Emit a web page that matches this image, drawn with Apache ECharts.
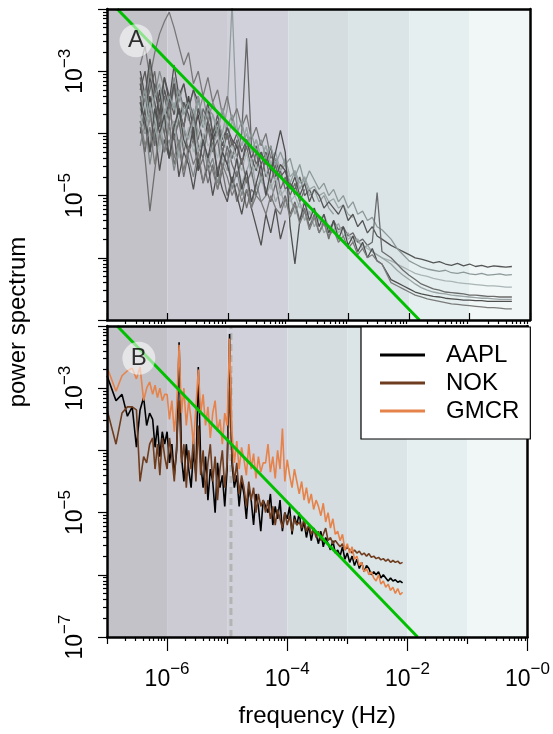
<!DOCTYPE html>
<html><head><meta charset="utf-8">
<script src="https://cdn.jsdelivr.net/npm/echarts@6/dist/echarts.min.js"></script>
<style>html,body{margin:0;padding:0;background:#fff}#c{width:553px;height:734px}</style>
</head><body><div id="c"></div><script>
const FONT = '"Liberation Sans", Arial, Helvetica, sans-serif';

// ---- axis / decoration data (log10 units) ----
const bandEdges = [-7, -6, -5, -4, -3, -2, -1, 0];
const bandColors = ['#c3c2c8', '#cccbd4', '#d1d1db', '#d5dde0', '#dbe4e6', '#e5efef', '#f1f6f6'];
const xDecades = [-7, -6, -5, -4, -3, -2, -1, 0];
const xLabeled = [-6, -4, -2, 0];
const xOdd = [-7, -5, -3, -1];
const yDecades = [-7, -6, -5, -4, -3, -2];
const yLabelsA = [-5, -3];
const yLabelsB = [-7, -5, -3];
const dayFreq = 1 / 86400;               // dashed line position (Hz)
const greenLine = [[-6.83, -2], [-1.83, -7]]; // log10 f, log10 power
const panelLetterA = [-6.52, -2.51];
const panelLetterB = [-6.47, -2.52];

// ---- panel A: log10 frequency grid and log10 power of each stock ----
const freqA = [-6.45,-6.37,-6.29,-6.21,-6.13,-6.05,-5.97,-5.89,-5.81,-5.73,
  -5.65,-5.57,-5.49,-5.41,-5.33,-5.25,-5.17,-5.09,-5.01,-4.93,
  -4.85,-4.77,-4.69,-4.61,-4.53,-4.45,-4.37,-4.29,-4.21,-4.13,
  -4.05,-3.97,-3.89,-3.81,-3.73,-3.65,-3.57,-3.49,-3.41,-3.33,
  -3.25,-3.17,-3.09,-3.01,-2.93,-2.85,-2.77,-2.69,-2.61,-2.53,
  -2.45,-2.3,-2.2,-2.1,-2.0,-1.9,-1.8,-1.7,-1.6,-1.5,-1.4,-1.3,-1.2,-1.1,-1.0,-0.9,-0.8,-0.7,-0.6,-0.5,-0.4,-0.3];

const longA1 = [-3.2,-3.7,-3.1,-3.5,-3.9,-3.3,-3.6,-3.2,-3.8,-3.5,-3.7,-4.1,-3.6,-3.9,-3.5,-4.0,-3.8,-4.2,-3.9,-4.1,-4.2,-4.5,-4.1,-4.4,-4.6,-4.3,-4.5,-4.2,-4.7,-4.5,-4.6,-4.9,-4.7,-5.0,-4.8,-5.1,-4.9,-5.0,-5.2,-5.1,-5.2,-5.3,-5.15,-5.4,-5.3,-5.5,-5.4,-5.6,-5.5,-5.65,-5.7,-5.8,-5.85,-5.9,-5.95,-6.0,-6.02,-6.05,-6.08,-6.06,-6.1,-6.12,-6.09,-6.13,-6.1,-6.14,-6.12,-6.15,-6.13,-6.14,-6.15,-6.14];
const longA2 = [-3.6,-3.3,-3.8,-3.4,-3.2,-3.7,-3.4,-3.6,-3.3,-3.7,-3.5,-3.8,-3.4,-3.9,-3.6,-3.7,-4.0,-3.6,-3.9,-3.7,-4.0,-3.8,-4.2,-4.0,-4.3,-4.1,-4.4,-4.2,-4.5,-4.3,-4.5,-4.4,-4.7,-4.5,-4.8,-4.6,-4.75,-4.9,-4.8,-5.0,-4.9,-5.1,-5.0,-5.2,-5.1,-5.3,-5.25,-5.4,-5.35,-5.5,-5.55,-5.7,-5.85,-5.95,-6.05,-6.1,-6.15,-6.18,-6.2,-6.22,-6.2,-6.24,-6.25,-6.23,-6.26,-6.27,-6.25,-6.28,-6.27,-6.26,-6.28,-6.27];
const longA3 = [-3.9,-3.5,-4.1,-3.7,-4.3,-3.8,-3.6,-4.0,-3.7,-4.2,-3.9,-4.3,-4.0,-3.8,-4.2,-4.1,-4.4,-4.0,-4.3,-4.2,-4.4,-4.6,-4.3,-4.7,-4.5,-4.8,-4.6,-4.9,-4.7,-5.0,-4.9,-5.1,-5.0,-5.2,-5.1,-5.3,-5.2,-5.4,-5.3,-5.5,-5.45,-5.6,-5.5,-5.7,-5.65,-5.75,-5.8,-5.85,-5.9,-5.95,-6.0,-6.05,-6.1,-6.15,-6.2,-6.25,-6.28,-6.3,-6.33,-6.35,-6.37,-6.38,-6.4,-6.41,-6.42,-6.43,-6.44,-6.45,-6.45,-6.46,-6.47,-6.47];
const longA4 = [-3.4,-3.9,-3.6,-4.2,-3.7,-4.0,-3.5,-4.1,-3.8,-4.3,-4.0,-3.7,-4.2,-4.4,-3.9,-4.3,-4.1,-4.6,-4.2,-4.5,-4.7,-4.4,-4.8,-4.6,-5.0,-4.7,-4.9,-5.1,-4.8,-5.2,-5.0,-5.3,-5.1,-5.4,-5.2,-5.5,-5.3,-5.6,-5.4,-5.7,-5.4,-5.55,-5.5,-5.65,-5.6,-5.75,-5.7,-5.8,-5.75,-4.95,-5.9,-6.0,-6.1,-6.2,-6.28,-6.35,-6.42,-6.46,-6.5,-6.52,-6.55,-6.56,-6.57,-6.58,-6.6,-6.6,-6.61,-6.62,-6.62,-6.63,-6.63,-6.63];
const longA5 = [-3.7,-4.0,-3.5,-3.9,-4.2,-3.6,-4.0,-3.8,-4.4,-3.9,-4.1,-3.8,-4.3,-4.0,-4.5,-4.2,-4.0,-4.4,-4.6,-4.3,-4.5,-4.8,-4.6,-4.4,-4.9,-4.7,-5.0,-4.8,-5.1,-4.9,-5.2,-5.0,-5.3,-5.1,-5.4,-5.25,-5.5,-5.35,-5.6,-5.5,-5.55,-5.45,-5.65,-5.6,-5.75,-5.7,-5.85,-5.8,-5.9,-5.95,-6.0,-6.1,-6.2,-6.28,-6.35,-6.42,-6.48,-6.52,-6.55,-6.57,-6.58,-6.6,-6.61,-6.62,-6.63,-6.64,-6.65,-6.65,-6.66,-6.67,-6.67,-6.67];
const longA6 = [-3.5,-3.8,-4.3,-3.6,-4.0,-3.7,-4.4,-3.9,-3.6,-4.1,-4.3,-3.9,-4.6,-4.1,-4.4,-4.0,-4.7,-4.3,-4.5,-4.8,-4.4,-4.9,-4.6,-5.1,-4.8,-4.5,-5.0,-4.6,-4.3,-3.95,-4.3,-5.5,-6.1,-5.4,-5.1,-5.4,-5.2,-5.5,-5.3,-5.6,-5.4,-5.7,-5.5,-5.8,-5.65,-5.9,-5.75,-6.0,-5.85,-6.05,-6.1,-6.35,-6.4,-6.45,-6.5,-6.55,-6.58,-6.6,-6.62,-6.63,-6.65,-6.66,-6.67,-6.68,-6.68,-6.69,-6.69,-6.7,-6.7,-6.7,-6.7,-6.7];
const longA7 = [-3.8,-4.2,-3.9,-4.5,-4.0,-4.3,-3.8,-4.4,-4.1,-4.6,-4.2,-4.5,-4.3,-4.8,-4.4,-4.6,-4.9,-4.5,-4.7,-5.0,-4.8,-5.1,-4.9,-5.2,-5.0,-5.1,-5.3,-5.0,-5.2,-5.3,-5.05,-5.35,-5.15,-5.45,-5.25,-5.55,-5.35,-5.6,-5.45,-5.65,-5.55,-5.75,-5.65,-5.85,-5.75,-5.95,-5.85,-6.0,-5.95,-6.05,-6.1,-6.4,-6.45,-6.5,-6.55,-6.6,-6.63,-6.66,-6.68,-6.7,-6.72,-6.74,-6.75,-6.76,-6.77,-6.78,-6.79,-6.8,-6.8,-6.81,-6.82,-6.82];

const shortA1 = [-3.3,-3.0,-3.6,-3.2,-3.5,-3.1,-3.4,-3.7,-3.3,-3.6,-3.5,-3.8,-3.4,-3.9,-3.6,-4.0,-3.7,-4.1,-3.9,-4.2,-4.0,-4.3,-4.1,-4.4,-4.2,-4.5,-4.3,-4.6,-4.4,-4.7,-4.6,-4.8,-4.9,-4.7,-5.0,-4.9,-5.1];
const shortA2 = [-3.6,-3.9,-3.4,-3.8,-3.5,-3.9,-3.6,-3.3,-3.7,-3.5,-3.8,-3.6,-4.0,-3.7,-3.9,-4.1,-3.8,-4.0,-3.6,-1.9,-3.9,-4.2,-4.0,-4.3,-4.1,-4.4,-4.2,-4.5,-4.4,-4.6,-4.5,-4.8,-4.6,-4.9,-4.7,-5.0,-4.9,-5.1,-5.0,-5.2,-5.3];
const shortA3 = [-3.9,-4.3,-3.7,-4.1,-3.6,-4.0,-4.4,-3.8,-4.2,-3.9,-4.3,-4.0,-4.5,-4.1,-4.4,-4.2,-4.6,-4.3,-4.5,-4.1,-4.4,-4.0,-2.47,-4.2,-4.5,-4.3,-4.7,-4.5,-4.8,-4.6,-4.9,-4.8,-5.0];
const shortA4 = [-2.9,-2.6,-3.1,-2.7,-2.4,-2.2,-2.05,-2.3,-2.6,-2.9,-2.7,-3.2,-3.0,-3.4,-3.1,-3.5,-3.3,-3.7,-3.4,-3.8,-3.6,-3.9,-3.7,-4.1,-3.9,-4.2,-4.0,-4.4,-4.3];
const shortA5 = [-3.8,-4.4,-5.25,-4.6,-4.0,-4.3,-3.9,-4.5,-4.2,-4.7,-4.3,-4.1,-4.6,-4.4,-4.8,-4.5,-4.9,-4.6,-5.0,-4.7,-5.1,-4.8,-5.2,-4.9,-5.0];
const shortA6 = [-3.4,-3.7,-3.2,-3.6,-3.9,-3.4,-3.7,-3.5,-3.9,-3.6,-3.4,-3.8,-3.5,-3.7,-4.0,-3.7,-3.9,-3.6,-4.1,-3.8,-4.0,-4.2,-3.9,-4.3,-4.1,-4.4,-4.2,-4.5,-4.3,-4.6,-4.4,-4.7,-4.6,-4.8,-4.7,-4.9,-4.85,-5.0,-4.95,-5.1,-5.05,-5.2,-5.15,-5.3,-5.35];
const shortA7 = [-4.0,-3.6,-4.3,-3.9,-4.6,-4.1,-4.4,-4.0,-4.7,-4.3,-4.5,-4.9,-4.4,-4.8,-4.5,-5.0,-4.6,-4.9,-5.1,-4.7,-5.0,-5.3,-4.9,-5.2,-5.5,-5.8,-5.3,-5.6,-5.2,-5.7,-5.4];
const shortA8 = [-3.2,-3.5,-2.9,-3.4,-3.0,-3.3,-3.6,-3.1,-3.5,-3.2,-3.6,-3.3,-3.7,-3.4,-3.8,-3.5,-3.7];
const shortA9 = [-3.5,-4.0,-3.4,-3.9,-3.3,-3.8,-3.5,-4.1,-3.6,-3.9,-3.4,-4.0,-3.7,-4.2,-3.8,-4.1,-3.9,-4.3,-4.0,-4.4,-4.2];
const shortA10 = [-3.1,-3.6,-3.3,-3.0,-3.7,-3.4,-3.8,-3.2,-3.6,-3.9,-3.5,-3.7,-4.1,-3.6,-3.8,-4.2,-3.9,-4.3,-4.0,-4.4,-4.1,-4.5,-4.2,-4.6,-4.3,-4.7,-4.4,-4.8,-4.5,-4.9,-4.7,-5.0,-4.8,-5.1,-4.9];
const shortA11 = [-4.2,-3.8,-4.5,-4.0,-3.7,-4.3,-4.1,-4.6,-4.2,-3.9,-4.4,-4.7,-4.3,-4.1,-4.6,-4.4,-4.8,-4.5,-4.3,-4.9,-4.6,-5.0,-4.7,-5.2,-4.8,-5.1,-5.0];
const shortA12 = [-3.0,-3.4,-2.8,-3.3,-3.7,-3.1,-3.5,-2.9,-3.4,-3.2,-3.6,-3.3,-3.5];

const longAColors = ['#555555','#8d9999','#a9b4b4','#6b6b6b','#9aa4a4','#4e4e4e','#7a7a7a'];
const shortAColors = ['#5a5a5a','#939d9d','#666666','#777777','#6e6e6e','#9aa5a5','#505050','#858b8b','#444444','#6a6a6a','#7d8585','#505050'];

// ---- panel B: log10 frequency grid and log10 power ----
const freqB = [-7.00,-6.85,-6.75,-6.66,-6.58,-6.51,-6.45,-6.39,-6.34,-6.29,-6.24,-6.20,-6.16,-6.12,-6.08,-6.04,
  -6.00,-5.96,-5.92,-5.88,-5.84,-5.80,-5.76,-5.72,-5.68,-5.64,
  -5.60,-5.56,-5.52,-5.48,-5.44,-5.40,-5.36,-5.32,-5.28,-5.24,
  -5.20,-5.16,-5.12,-5.08,-5.04,-5.00,-4.96,-4.92,-4.88,-4.84,
  -4.80,-4.76,-4.72,-4.68,-4.64,-4.60,-4.56,-4.52,-4.48,-4.44,
  -4.40,-4.36,-4.32,-4.28,-4.24,-4.20,-4.16,-4.12,-4.08,-4.04,
  -4.00,-3.96,-3.92,-3.88,-3.84,-3.80,-3.76,-3.72,-3.68,-3.64,
  -3.60,-3.56,-3.52,-3.48,-3.44,-3.40,-3.36,-3.32,-3.28,-3.24,
  -3.20,-3.16,-3.12,-3.08,-3.04,-3.00,-2.96,-2.92,-2.88,-2.84,
  -2.80,-2.76,-2.72,-2.68,-2.64,-2.60,-2.56,-2.52,-2.48,-2.44,
  -2.40,-2.36,-2.32,-2.28,-2.24,-2.20,-2.16,-2.12,-2.08];

const aapl = [-2.8,-3.2,-3.1,-3.45,-3.3,-3.95,-3.35,-3.15,-3.6,-3.4,-3.5,-3.95,-3.6,-4.1,-3.7,-3.9,
  -3.7,-4.2,-3.9,-4.4,-4.0,-2.26,-4.1,-4.5,-3.9,-4.3,-4.6,-4.0,-4.4,
  -2.66,-4.2,-4.6,-4.1,-4.8,-4.3,-4.5,-5.0,-4.2,-4.6,-4.4,-4.9,-4.3,
  -2.13,
  -4.2,-4.6,-4.4,-4.9,-4.5,-4.7,-5.1,-4.6,-4.8,-5.2,-4.7,-4.9,-5.3,-4.8,
  -4.9,-5.0,-4.7,-5.2,-4.9,-5.1,-4.8,-5.3,-5.0,-5.1,-4.9,-5.35,-5.05,-5.2,-5.0,
  -5.3,-5.15,-5.4,-5.2,-5.45,-5.25,-5.35,-5.5,-5.3,-5.55,-5.4,-5.5,-5.6,-5.45,-5.65,
  -5.6,-5.7,-5.55,-5.75,-5.65,-5.8,-5.7,-5.85,-5.75,-5.9,-5.8,-5.95,-5.85,-5.9,-6.0,
  -5.95,-6.0,-5.95,-6.05,-6.0,-6.05,-6.1,-6.05,-6.1,-6.08,-6.12,-6.1,-6.13];
const nok = [-3.34,-3.9,-3.4,-3.3,-3.3,-3.35,-4.5,-4.1,-4.2,-3.9,-3.8,-4.3,-3.9,-4.4,-3.8,-4.1,
  -4.3,-3.8,-4.1,-4.5,-3.9,-3.2,-4.2,-3.9,-4.6,-4.0,-4.3,-3.8,-4.5,
  -3.6,-4.4,-4.0,-4.7,-4.2,-3.9,-4.5,-4.1,-4.8,-4.3,-4.0,-4.6,-4.2,
  -3.0,
  -4.1,-4.5,-4.2,-4.7,-4.4,-4.6,-4.9,-4.5,-4.8,-4.6,-5.0,-4.7,-4.9,-4.8,
  -5.0,-4.8,-5.1,-4.9,-5.2,-4.95,-5.1,-5.25,-5.0,-5.2,-5.05,-5.3,-5.1,-5.2,-5.15,
  -5.25,-5.1,-5.3,-5.2,-5.35,-5.25,-5.4,-5.3,-5.45,-5.35,-5.25,-5.45,-5.4,-5.5,-5.45,
  -5.5,-5.55,-5.5,-5.6,-5.55,-5.6,-5.65,-5.6,-5.65,-5.62,-5.68,-5.65,-5.7,-5.66,-5.72,
  -5.7,-5.74,-5.72,-5.76,-5.74,-5.78,-5.75,-5.8,-5.77,-5.8,-5.78,-5.82,-5.8];
const gmcr = [-2.66,-3.05,-2.8,-2.72,-2.68,-2.85,-2.66,-3.2,-3.0,-2.9,-3.1,-2.95,-3.15,-3.0,-3.2,-3.1,
  -3.1,-3.5,-3.2,-3.7,-3.3,-2.3,-3.4,-3.0,-3.6,-3.2,-3.5,-3.9,-3.3,
  -2.7,-3.4,-3.1,-3.6,-3.3,-3.8,-3.4,-3.2,-3.7,-3.5,-3.9,-3.4,-3.6,
  -2.2,
  -3.7,-4.2,-3.85,-4.3,-3.95,-4.15,-4.4,-3.9,-4.3,-4.05,-4.45,-4.1,-4.35,-4.2,
  -4.2,-3.9,-4.35,-4.1,-4.45,-4.0,-4.3,-3.65,-4.5,-4.15,-4.4,-4.6,-4.3,-4.5,-4.7,
  -4.5,-4.8,-4.6,-4.85,-4.7,-4.95,-4.8,-4.9,-5.05,-4.85,-5.15,-5.0,-5.25,-5.1,-5.35,
  -5.3,-5.45,-5.35,-5.6,-5.5,-5.65,-5.55,-5.75,-5.7,-5.85,-5.8,-5.95,-5.9,-6.0,-5.95,
  -6.05,-6.1,-6.0,-6.15,-6.1,-6.2,-6.15,-6.25,-6.2,-6.3,-6.22,-6.32,-6.28];
const stockNames = ['AAPL', 'NOK', 'GMCR'];
const stockColors = ['#000000', '#6e3c1e', '#e6834b'];

// ---- build ----
function pairs(xs, ys) { const n = Math.min(xs.length, ys.length); const o = []; for (let i = 0; i < n; i++) o.push([xs[i], ys[i]]); return o; }
function minorTicks(lo, hi) { const o = []; for (let d = lo; d < hi; d++) for (let k = 2; k <= 9; k++) o.push(d + Math.log10(k)); return o; }
const minorX = minorTicks(-7, 0), minorY = minorTicks(-7, -2);
const supFmt = v => '{b|10}{s|\u2212' + Math.abs(Math.round(v)) + '}';
const rich = {
  b: { fontSize: 23, fontFamily: FONT, color: '#000', verticalAlign: 'bottom' },
  s: { fontSize: 17, fontFamily: FONT, color: '#000', verticalAlign: 'bottom', padding: [0, 0, 13, 0] }
};
const blk = { color: '#000', width: 2.5 };
function xAx(grid, extra) {
  return Object.assign({ type: 'value', gridIndex: grid, min: -7, max: 0, position: 'bottom', z: 10,
    splitLine: { show: false }, axisLabel: { show: false }, axisTick: { show: false },
    axisLine: { show: false, onZero: false } }, extra);
}
function yAx(grid, extra) {
  return Object.assign({ type: 'value', gridIndex: grid, min: -7, max: -2, position: 'left', z: 10,
    splitLine: { show: false }, axisLabel: { show: false }, axisTick: { show: false },
    axisLine: { show: false, onZero: false } }, extra);
}
const tk = (vals, len, inside) => ({ show: true, customValues: vals, length: len, inside: !!inside, lineStyle: { color: '#000', width: 1.2 } });

const xAxis = [
  xAx(0, { axisLine: { show: true, onZero: false, lineStyle: blk }, axisTick: tk(xDecades, 7, true) }),
  xAx(0, { axisTick: tk(minorX, 4) }),
  xAx(0, { position: 'top', axisLine: { show: true, onZero: false, lineStyle: blk } }),
  xAx(1, { axisLine: { show: true, onZero: false, lineStyle: blk }, axisTick: tk(xLabeled, 14),
    axisLabel: { show: true, customValues: xLabeled, formatter: supFmt, rich: rich, margin: 24 },
    name: 'frequency (Hz)', nameLocation: 'middle', nameGap: 67,
    nameTextStyle: { fontSize: 24, fontFamily: FONT, color: '#000' } }),
  xAx(1, { axisTick: tk(xOdd, 7) }),
  xAx(1, { axisTick: tk(minorX, 4) }),
  xAx(1, { position: 'top', axisLine: { show: true, onZero: false, lineStyle: blk } })
];
const yAxis = [
  yAx(0, { axisLine: { show: true, onZero: false, lineStyle: blk }, axisTick: tk(yDecades, 9),
    axisLabel: { show: true, customValues: yLabelsA, formatter: supFmt, rich: rich, rotate: 90, margin: 20 } }),
  yAx(0, { axisTick: tk(minorY, 4) }),
  yAx(0, { position: 'right', axisLine: { show: true, onZero: false, lineStyle: blk } }),
  yAx(1, { axisLine: { show: true, onZero: false, lineStyle: blk }, axisTick: tk(yDecades, 9),
    axisLabel: { show: true, customValues: yLabelsB, formatter: supFmt, rich: rich, rotate: 90, margin: 20 } }),
  yAx(1, { axisTick: tk(minorY, 4) }),
  yAx(1, { position: 'right', axisLine: { show: true, onZero: false, lineStyle: blk } })
];

const bandData = bandColors.map((c, i) => [bandEdges[i], bandEdges[i + 1]]);
function bandSeries(xi, yi) {
  return { type: 'custom', xAxisIndex: xi, yAxisIndex: yi, z: 1, silent: true, clip: true,
    data: bandData, encode: { x: [0, 1] },
    renderItem: (params, api) => {
      const p0 = api.coord([api.value(0), -2]);
      const p1 = api.coord([api.value(1), -7]);
      return { type: 'rect', shape: { x: p0[0], y: p0[1], width: p1[0] - p0[0], height: p1[1] - p0[1] },
        style: { fill: bandColors[params.dataIndex] } };
    } };
}
function lineS(name, data, color, xi, yi, width, z) {
  return { name: name, type: 'line', xAxisIndex: xi, yAxisIndex: yi, data: data, color: color,
    symbol: 'none', showSymbol: false, silent: true, z: z, clip: true,
    lineStyle: { color: color, width: width }, emphasis: { disabled: true } };
}
function letter(txt, pos, xi, yi) {
  return { type: 'scatter', xAxisIndex: xi, yAxisIndex: yi, data: [pos], symbolSize: 33, z: 8, silent: true,
    itemStyle: { color: 'rgba(255,255,255,0.7)' },
    label: { show: true, position: 'inside', formatter: txt, fontSize: 24, fontFamily: FONT, color: '#000' } };
}

const series = [bandSeries(0, 0), bandSeries(3, 3)];
const shortA = [shortA1, shortA2, shortA3, shortA4, shortA5, shortA6, shortA7, shortA8, shortA9, shortA10, shortA11, shortA12];
const longA = [longA1, longA2, longA3, longA4, longA5, longA6, longA7];
shortA.forEach((v, i) => series.push(lineS('sA' + i, pairs(freqA, v), shortAColors[i], 0, 0, 1.3, 3)));
longA.forEach((v, i) => series.push(lineS('lA' + i, pairs(freqA, v), longAColors[i], 0, 0, 1.3, 3)));
const ld = Math.log10(dayFreq);
series.push({ type: 'line', xAxisIndex: 3, yAxisIndex: 3, data: [[ld, -7], [ld, -2]], symbol: 'none', silent: true, z: 2,
  lineStyle: { color: '#b3b3b3', width: 3, type: [7, 4] } });
[aapl, nok, gmcr].forEach((v, i) => series.push(lineS(stockNames[i], pairs(freqB, v), stockColors[i], 3, 3, 1.6, 3)));
series.push(lineS('greenA', greenLine, '#00c000', 0, 0, 3, 5));
series.push(lineS('greenB', greenLine, '#00c000', 3, 3, 3, 5));
series.push(letter('A', panelLetterA, 0, 0));
series.push(letter('B', panelLetterB, 3, 3));

const chart = echarts.init(document.getElementById('c'), null, { renderer: 'canvas' });
chart.setOption({
  animation: false,
  backgroundColor: '#ffffff',
  grid: [{ left: 107, top: 9, width: 423, height: 311 }, { left: 107, top: 326, width: 423, height: 311 }],
  xAxis: xAxis, yAxis: yAxis,
  legend: { data: stockNames, orient: 'vertical', left: 361, top: 327, selectedMode: false,
    icon: 'rect', itemWidth: 45, itemHeight: 3, itemGap: 4,
    padding: [16, 11, 16, 19], backgroundColor: '#ffffff', borderColor: '#000', borderWidth: 1.2,
    textStyle: { fontSize: 24, fontFamily: FONT, color: '#000', padding: [0, 0, 0, 16] }, z: 12 },
  graphic: [{ type: 'text', x: 18, y: 322, rotation: Math.PI / 2, z: 20,
    style: { text: 'power spectrum', font: '24px ' + FONT, fill: '#000', textAlign: 'center', textVerticalAlign: 'middle' } }],
  series: series
});
</script></body></html>
